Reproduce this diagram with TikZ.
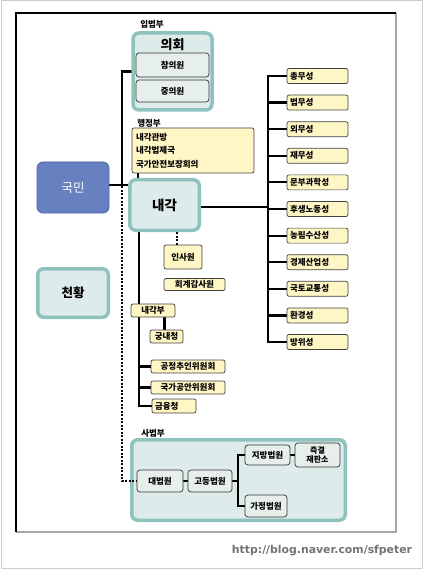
\documentclass[tikz,border=0pt]{standalone}
\usepackage{fontspec}
\usepackage{graphicx}
\setmainfont{Noto Sans CJK KR}
\newfontfamily\urlfont{DejaVu Sans}
\usetikzlibrary{calc}
\pgfdeclarelayer{back}
\pgfdeclarelayer{bg}
\pgfsetlayers{back,bg,main}
\definecolor{tealB}{HTML}{8FC1BD}
\definecolor{tealF}{HTML}{DDEBEA}
\definecolor{greenF}{HTML}{E6EFEA}
\definecolor{yelF}{HTML}{FFF6C6}
\definecolor{blueF}{HTML}{6781C0}
\definecolor{blueB}{HTML}{4D66A6}
\definecolor{frameG}{HTML}{A8A8A8}
\begin{document}
\begin{tikzpicture}[x=1pt,y=-1pt,
  tealbox/.style={draw=tealB, line width=3.5pt, fill=tealF, rounded corners=6pt, inner sep=0pt},
  grnbox/.style={draw=black!80, line width=0.7pt, fill=greenF, rounded corners=3pt, inner sep=0pt, font=\fontsize{8.5}{9}\selectfont\bfseries},
  yelbox/.style={draw=black!75, line width=0.7pt, fill=yelF, rounded corners=2pt, inner sep=0pt, font=\fontsize{8.5}{9}\selectfont\bfseries},
  lbl/.style={inner sep=0pt, font=\fontsize{8.5}{9}\selectfont\bfseries},
  conn/.style={line width=2.2pt, line cap=rect},
  dotline/.style={line width=2.2pt, dash pattern=on 2pt off 1.5pt}
]
\useasboundingbox (0,0) rectangle (423,569);
% outer and inner frames
\draw[draw=black!20, line width=1pt] (1,1) rectangle (422,568);
\draw[frameG, line width=1.5pt] (16,532) -- (396,532) -- (396,13);
\draw[black, line width=1.5pt] (16,532) -- (16,13) -- (396,13);

% legislature
\node[lbl] (lblrip) at (152,24) {입법부};
\node[tealbox, minimum width=79pt, minimum height=77pt] (uiwe) at (172.5,71.5) {};
\node[inner sep=0pt, font=\fontsize{13}{14}\selectfont\bfseries] (uiwet) at (172.5,45) {의회};
\node[grnbox, minimum width=73pt, minimum height=24pt] (cham) at (172.5,65) {참의원};
\node[grnbox, minimum width=73pt, minimum height=22pt] (jung) at (172.5,91) {중의원};

% people, emperor
\node[draw=blueB, line width=0.8pt, fill=blueF, rounded corners=6pt, minimum width=72pt, minimum height=51pt, text=white, font=\fontsize{12.5}{13}\selectfont] (kokumin) at (73,187.5) {국민};
\node[tealbox, minimum width=70.5pt, minimum height=48.5pt, font=\fontsize{12.5}{13}\selectfont\bfseries] (tenno) at (73,293) {천황};

% executive
\node[lbl] (lblgyo) at (149,123) {행정부};
\node[yelbox, minimum width=122pt, minimum height=45pt, text width=114pt, align=left, inner sep=4pt, font=\fontsize{8.5}{13.5}\selectfont\bfseries] (gyosei) at (193,150.5) {내각관방\\내각법제국\\국가안전보장회의};
\node[tealbox, minimum width=69.5pt, minimum height=50.5pt, font=\fontsize{13.5}{14}\selectfont\bfseries] (naikaku) at (164.5,205) {내각};

% ministries
\foreach \i/\t in {1/총무성,2/법무성,3/외무성,4/재무성,5/문부과학성,6/후생노동성,7/농림수산성,8/경제산업성,9/국토교통성,10/환경성,11/방위성}{
  \node[yelbox, minimum width=61pt, minimum height=15pt, text width=55pt, align=left] (s\i) at (317.5,{76+26.6*(\i-1)}) {\t};
}
\coordinate (m) at (268,207);

\node[yelbox, minimum width=38pt, minimum height=24pt] (jinji) at (183,257) {인사원};
\node[yelbox, minimum width=61pt, minimum height=12pt] (kaikei) at (194.5,284.5) {회계감사원};
\node[yelbox, minimum width=44pt, minimum height=13pt] (naikakufu) at (153,310.5) {내각부};
\node[yelbox, minimum width=33pt, minimum height=13pt] (kunai) at (166.5,336.5) {궁내청};
\node[yelbox, minimum width=74pt, minimum height=13pt] (kotori) at (188,366.5) {공정추인위원회};
\node[yelbox, minimum width=74pt, minimum height=13pt] (kokka) at (188,387.5) {국가공안위원회};
\node[yelbox, minimum width=44pt, minimum height=14pt, text width=38pt, align=left] (kinyu) at (174,406) {금융청};
\coordinate (v) at (139,0);

% judiciary
\node[lbl] (lblshi) at (153,433) {사법부};
\begin{pgfonlayer}{back}
\node[tealbox, minimum width=213.5pt, minimum height=80.5pt] (shiho) at (238.5,480) {};
\end{pgfonlayer}
\node[grnbox, minimum width=46pt, minimum height=22pt] (daiho) at (160,481) {대법원};
\node[grnbox, minimum width=44pt, minimum height=22pt] (koto) at (210,481) {고등법원};
\node[grnbox, minimum width=45pt, minimum height=20pt] (chiho) at (267.5,455) {지방법원};
\node[grnbox, minimum width=45pt, minimum height=24pt, align=center, font=\fontsize{8}{8.5}\selectfont\bfseries] (sokketsu) at (317.5,455) {즉결\\재판소};
\node[grnbox, minimum width=42pt, minimum height=22pt] (katei) at (266,506) {가정법원};
\coordinate (b) at (238,0);

\coordinate (j) at (122,185);

\node[text=black!55, inner sep=0pt] (url) at (322,551) {\resizebox{180pt}{!}{\urlfont\bfseries http://blog.naver.com/sfpeter}};

\begin{pgfonlayer}{bg}
  \draw[conn] (kokumin.east |- j) -- (naikaku.west |- j);
  \draw[conn] (j) |- (uiwe.west);
  \draw[dotline] ([yshift=2pt]j) |- (daiho.west);
  \draw[conn] (gyosei.south -| 138,0) -- (naikaku.north -| 138,0);
  \draw[conn] (naikaku.east |- m) -- (m);
  \draw[conn] (s1.west -| m) -- (s11.west -| m);
  \foreach \i in {1,...,11}{\draw[conn] (s\i.west -| m) -- (s\i.west);}
  \draw[dotline] ([xshift=-6pt]jinji.north) -- ([xshift=-6pt]jinji.north |- naikaku.south);
  \draw[conn] (naikaku.south -| v) -- (v |- kinyu.west) -- (kinyu.west);
  \draw[conn] (v |- kotori.west) -- (kotori.west);
  \draw[conn] (v |- kokka.west) -- (kokka.west);
  \draw[conn] ([xshift=-2pt]kunai.north) -- ([xshift=-2pt]kunai.north |- naikakufu.south);
  \draw[conn] (daiho.east) -- (koto.west);
  \draw[conn] (koto.east) -- (koto.east -| b);
  \draw[conn] (chiho.west) -| (b |- katei.west) -- (katei.west);
  \draw[conn] (chiho.east) -- (sokketsu.west);
\end{pgfonlayer}
\end{tikzpicture}
\end{document}
